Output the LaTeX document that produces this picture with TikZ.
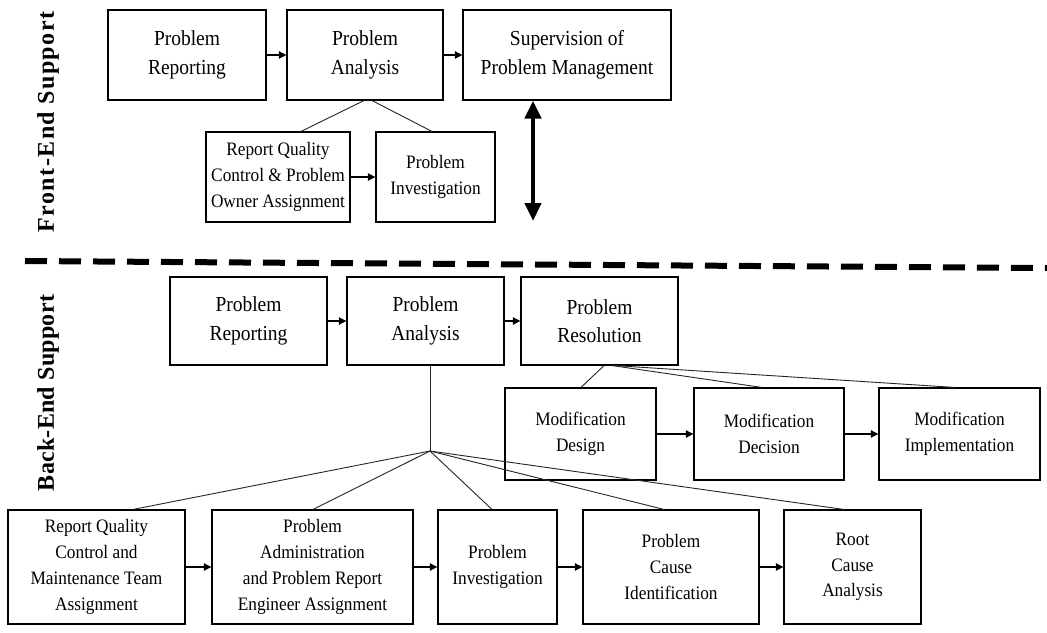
\documentclass[tikz,border=0pt]{standalone}
\usepackage{fontspec}
\setmainfont{Liberation Serif}[FakeStretch=0.91]
\newfontfamily\frontlabfont{Liberation Serif}[LetterSpace=6]
\newfontfamily\backlabfont{Liberation Serif}[LetterSpace=1]
\usetikzlibrary{arrows.meta,calc}

\tikzset{
  box/.style={draw, line width=1.1pt, inner sep=0pt, align=center},
  big/.style={font=\fontsize{21.4}{28.5}\selectfont},
  small/.style={font=\fontsize{19}{25.8}\selectfont},
  flow/.style={line width=2.2pt, -{Triangle[length=7.5pt,width=7pt]}},
  link/.style={line width=0.9pt, black!85},
  bothway/.style={line width=4.5pt, {Triangle[length=18pt,width=16pt]}-{Triangle[length=18pt,width=16pt]}},
  divider/.style={line width=6pt, dash pattern=on 22pt off 12pt},
  side/.style={rotate=90, inner sep=0pt}
}

\begin{document}
\begin{tikzpicture}[x=1pt, y=-1pt]
\useasboundingbox[fill=white] (0,0) rectangle (1047,632);

% ---------- front-end support ----------
\node[side, font=\frontlabfont\fontsize{24}{24}\bfseries\selectfont] (lblFront) at (48,122) {Front-End Support};

\node[box, big, minimum width=158pt, minimum height=90pt] (fPR) at (187,55) {Problem\\Reporting};
\node[box, big, minimum width=156pt, minimum height=90pt] (fPA) at (365,55) {Problem\\Analysis};
\node[box, big, minimum width=208pt, minimum height=90pt] (fSM) at (567,55) {Supervision of\\Problem Management};
\node[box, small, minimum width=144pt, minimum height=90pt] (fRQ) at (278,177) {Report Quality\\Control \& Problem\\Owner Assignment};
\node[box, small, minimum width=119pt, minimum height=90pt] (fPI) at (435.5,177) {Problem\\Investigation};

\draw[flow] (fPR) -- (fPA);
\draw[flow] (fPA) -- (fSM);
\draw[flow] (fRQ) -- (fPI);
\draw[link] ($(fPA.south)+(-1,0)$) -- ($(fRQ.north)+(23,0)$);
\draw[link] ($(fPA.south)+(7,0)$) -- ($(fPI.north)+(-3.5,0)$);

\coordinate (supEnd) at (533,221);
\draw[bothway] ($(fSM.south)+(-34,0)$) -- (supEnd);

% ---------- divider ----------
\coordinate (divL) at (25,261);
\coordinate (divR) at (1047,268);
\draw[divider] (divL) -- (divR);

% ---------- back-end support ----------
\node[side, font=\backlabfont\fontsize{24}{24}\bfseries\selectfont] (lblBack) at (48,393) {Back-End Support};

\node[box, big, minimum width=157pt, minimum height=88pt] (bPR) at (248.5,321) {Problem\\Reporting};
\node[box, big, minimum width=157pt, minimum height=88pt] (bPA) at (425.5,321) {Problem\\Analysis};
\node[box, big, minimum width=157pt, minimum height=88pt] (bRS) at (599.5,321) {Problem\\Resolution};

\draw[flow] (bPR) -- (bPA);
\draw[flow] (bPA) -- (bRS);

\node[box, small, minimum width=151pt, minimum height=92pt] (mDs) at (580.5,434) {Modification\\Design};
\node[box, small, minimum width=150pt, minimum height=92pt] (mDc) at (769,434) {Modification\\Decision};
\node[box, small, minimum width=161pt, minimum height=92pt] (mIm) at (959.5,434) {Modification\\Implementation};

\draw[flow] (mDs) -- (mDc);
\draw[flow] (mDc) -- (mIm);
\draw[link] ($(bRS.south)+(4.5,0)$) -- ($(mDs.north)+(0.5,0)$);
\draw[link] ($(bRS.south)+(12.5,0)$) -- ($(mDc.north)+(-7,0)$);
\draw[link] ($(bRS.south)+(15,0)$) -- ($(mIm.north)+(-4.5,0)$);

\node[box, small, minimum width=177pt, minimum height=114pt] (qRQ) at (96.5,567) {Report Quality\\Control and\\Maintenance Team\\Assignment};
\node[box, small, minimum width=201pt, minimum height=114pt] (qPA) at (312.5,567) {Problem\\Administration\\and Problem Report\\Engineer Assignment};
\node[box, small, minimum width=119pt, minimum height=114pt] (qPI) at (497.5,567) {Problem\\Investigation};
\node[box, small, minimum width=176pt, minimum height=114pt] (qPC) at (671,567) {Problem\\Cause\\Identification};
\node[box, small, minimum width=137pt, minimum height=114pt] (qRC) at (852.5,567) {Root\\Cause\\Analysis};

\draw[flow] (qRQ) -- (qPA);
\draw[flow] (qPA) -- (qPI);
\draw[flow] (qPI) -- (qPC);
\draw[flow] (qPC) -- (qRC);

\coordinate (hub) at (430,451);
\draw[link] ($(bPA.south)+(4.5,0)$) -- (hub);
\draw[link] (hub) -- ($(qRQ.north)+(36.5,0)$);
\draw[link] (hub) -- ($(qPA.north)+(0.5,0)$);
\draw[link] (hub) -- ($(qPI.north)+(-5.5,0)$);
\draw[link] (hub) -- ($(qPC.north)+(-7,0)$);
\draw[link] (hub) -- ($(qRC.north)+(-8.5,0)$);
\end{tikzpicture}
\end{document}
